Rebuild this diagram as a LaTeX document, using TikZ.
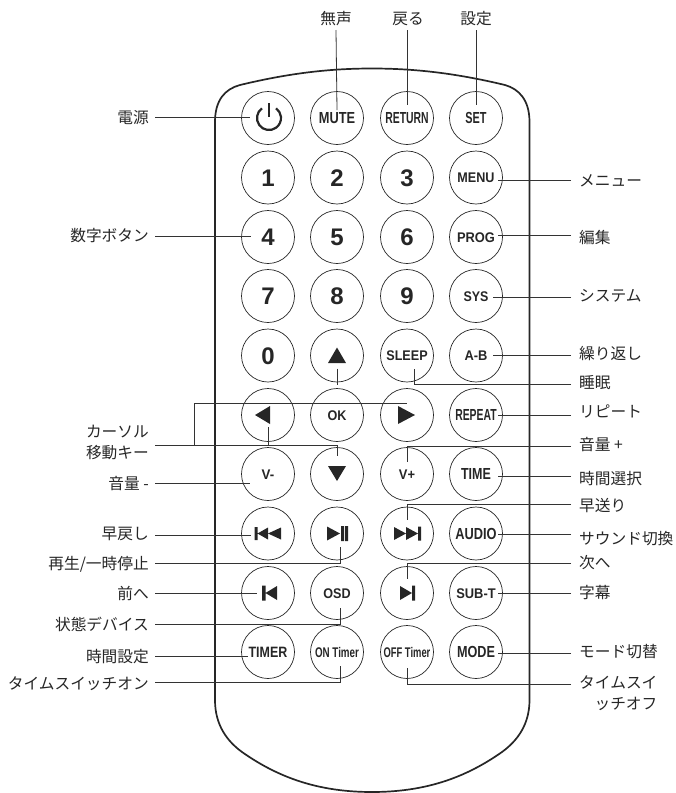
\documentclass[tikz,border=0pt]{standalone}
\usepackage{fontspec}
\setmainfont{Noto Sans CJK JP}
\newfontfamily\btnfont{Liberation Sans}[BoldFont={Liberation Sans Bold}]
\definecolor{inkc}{HTML}{262626}
\definecolor{linec}{HTML}{333333}
\tikzset{
  conn/.style={draw=linec,line width=0.8pt},
  bodyline/.style={draw=inkc,line width=1.7pt},
  btncircle/.style={circle,draw=inkc,line width=0.7pt,minimum size=53pt,inner sep=0pt,text=inkc},
  icon/.style={fill=inkc,draw=none},
  lab/.style={inner ysep=0pt,text height=6pt,text depth=6pt,text=inkc,font=\fontsize{15.7}{21}\selectfont},
  leftlab/.style={lab,anchor=east,inner xsep=6pt},
  rightlab/.style={lab,anchor=west,inner xsep=8pt},
  toplab/.style={lab,anchor=south,inner xsep=0pt}
}
% raise label text: #1 = offset from the line, upward
\newcommand{\lt}[2]{\raisebox{\dimexpr#1-6.5pt\relax}{#2}}
% name, x, y, size, xscale, text
\newcommand{\btn}[6]{\node[btncircle] (#1) at (#2,#3)
  {\fontsize{#4}{#4}\btnfont\bfseries\smash{\raisebox{-0.358em}{\scalebox{#5}[1]{#6}}}};}
\newcommand{\bare}[3]{\node[btncircle] (#1) at (#2,#3) {};}
\begin{document}
\begin{tikzpicture}[x=1pt,y=-1pt]
\useasboundingbox (0,0) rectangle (676,793);
% body
\draw[bodyline] (215,700) -- (215,122)
  .. controls (215,100) and (225,89) .. (240,85)
  .. controls (290,73) and (330,68.5) .. (372,68.5)
  .. controls (414,68.5) and (455,73) .. (505,85)
  .. controls (519,89) and (529.5,100) .. (529.5,122)
  -- (529.5,700)
  .. controls (529.5,725) and (517,741) .. (502,752)
  .. controls (465,778) and (425,792) .. (372,792)
  .. controls (319,792) and (279,778) .. (242,752)
  .. controls (227,741) and (215,725) .. (215,700) -- cycle;
% buttons
\bare{bpower}{268}{118}
\btn{bmute}{337}{118}{16}{.8}{MUTE}
\btn{breturn}{407}{118}{16}{.65}{RETURN}
\btn{bset}{476}{118}{16}{.68}{SET}
\btn{bone}{268}{177.5}{24}{1}{1}
\btn{btwo}{337}{177.5}{24}{1}{2}
\btn{bthree}{407}{177.5}{24}{1}{3}
\btn{bmenu}{476}{177.5}{14}{.9}{MENU}
\btn{bfour}{268}{237}{24}{1}{4}
\btn{bfive}{337}{237}{24}{1}{5}
\btn{bsix}{407}{237}{24}{1}{6}
\btn{bprog}{476}{237}{14}{.92}{PROG}
\btn{bseven}{268}{296}{24}{1}{7}
\btn{beight}{337}{296}{24}{1}{8}
\btn{bnine}{407}{296}{24}{1}{9}
\btn{bsys}{476}{296}{14}{.89}{SYS}
\btn{bzero}{268}{355.5}{24}{1}{0}
\bare{bup}{337}{355.5}
\btn{bsleep}{407}{355.5}{14}{.9}{SLEEP}
\btn{bab}{476}{355.5}{14}{.92}{A-B}
\bare{bleft}{268}{415}
\btn{bok}{337}{415}{14}{.9}{OK}
\bare{bright}{407}{415}
\btn{brepeat}{476}{415}{16}{.65}{REPEAT}
\btn{bvminus}{268}{474}{14}{.95}{V-}
\bare{bdown}{337}{474}
\btn{bvplus}{407}{474}{14}{.92}{V+}
\btn{btime}{476}{474}{16}{.78}{TIME}
\bare{brew}{268}{533.5}
\bare{bplay}{337}{533.5}
\bare{bff}{407}{533.5}
\btn{baudio}{476}{533.5}{16}{.8}{AUDIO}
\bare{bprev}{268}{593}
\btn{bosd}{337}{593}{14}{.9}{OSD}
\bare{bnext}{407}{593}
\btn{bsub}{476}{593}{14}{.92}{SUB-T}
\btn{btimer}{268}{652}{15}{.83}{TIMER}
\btn{bon}{337}{652}{14}{.7}{ON Timer}
\btn{boff}{407}{652}{14}{.67}{OFF Timer}
\btn{bmode}{476}{652}{16}{.79}{MODE}
% icons
\draw[inkc,line width=2.4pt,shift={(bpower.center)}] (1,-15) -- (1,-1);
\draw[inkc,line width=2.2pt,shift={(bpower.center)}] (-6.05,-9.7) arc[start angle=126,end angle=414,radius=12pt];
\fill[icon,shift={(bup.center)}] (0,-8) -- (9,7.5) -- (-9,7.5) -- cycle;
\fill[icon,shift={(bdown.center)}] (0,7) -- (9,-8) -- (-9,-8) -- cycle;
\fill[icon,shift={(bleft.center)}] (-13,0) -- (2,-9) -- (2,9) -- cycle;
\fill[icon,shift={(bright.center)}] (8,0) -- (-9,-9) -- (-9,9) -- cycle;
\fill[icon,shift={(brew.center)}] (-13.5,-6.5) rectangle (-10.5,6.5) (-10.5,0) -- (0,-6) -- (0,6) -- cycle (0,0) -- (13,-6) -- (13,6) -- cycle;
\fill[icon,shift={(bff.center)}] (14,-7) rectangle (11,7) (11,0) -- (-1,-6.5) -- (-1,6.5) -- cycle (-1,0) -- (-13,-6.5) -- (-13,6.5) -- cycle;
\fill[icon,shift={(bplay.center)}] (-10,-7) -- (3,0) -- (-10,7) -- cycle (4,-7.5) rectangle (7,7.5) (8,-7.5) rectangle (11,7.5);
\fill[icon,shift={(bprev.center)}] (-6,-7.5) rectangle (-2.5,7.5) (-2.5,0) -- (9,-7) -- (9,7) -- cycle;
\fill[icon,shift={(bnext.center)}] (8,-7.5) rectangle (5,7.5) (5,0) -- (-7,-7) -- (-7,7) -- cycle;
% top labels
\node[toplab] (lmute) at (336,30) {\lt{6pt}{無声}};
\node[toplab] (lreturn) at (408,30) {\lt{6pt}{戻る}};
\node[toplab] (lset) at (476,30) {\lt{6pt}{設定}};
% left labels (anchored at the line)
\node[leftlab] (lpower) at (155,117) {\lt{0pt}{電源}};
\node[leftlab] (lnum) at (155,236) {\lt{1pt}{数字ボタン}};
\node[leftlab] (lcursor) at (155,445) {\raisebox{\dimexpr 3.5pt-6pt\relax}{\begin{tabular}[c]{@{}r@{}}カーソル\\移動キー\end{tabular}}};
\node[leftlab] (lvminus) at (155,483) {\lt{0pt}{音量 -}};
\node[leftlab] (lrew) at (155,535) {\lt{2pt}{早戻し}};
\node[leftlab] (lplay) at (155,563) {\lt{0pt}{再生/一時停止}};
\node[leftlab] (lprev) at (155,593) {\lt{0pt}{前へ}};
\node[leftlab] (losd) at (155,624) {\lt{0pt}{状態デバイス}};
\node[leftlab] (ltimer) at (155,656) {\lt{0pt}{時間設定}};
\node[leftlab] (lon) at (155,682) {\lt{-1pt}{タイムスイッチオン}};
% right labels
\node[rightlab] (lmenu) at (571,180) {\lt{0pt}{メニュー}};
\node[rightlab] (lprog) at (571,235) {\lt{-2pt}{編集}};
\node[rightlab] (lsys) at (571,297) {\lt{2pt}{システム}};
\node[rightlab] (lab) at (571,355) {\lt{2pt}{繰り返し}};
\node[rightlab] (lsleep) at (571,384) {\lt{2pt}{睡眠}};
\node[rightlab] (lrepeat) at (571,415) {\lt{4pt}{リピート}};
\node[rightlab] (lvplus) at (571,446) {\lt{2pt}{音量 +}};
\node[rightlab] (ltime) at (571,476) {\lt{-2pt}{時間選択}};
\node[rightlab] (lff) at (571,504) {\lt{-1pt}{早送り}};
\node[rightlab] (laudio) at (571,534) {\lt{-4pt}{サウンド切換}};
\node[rightlab] (lnext) at (571,563) {\lt{1pt}{次へ}};
\node[rightlab] (lsub) at (571,593) {\lt{1pt}{字幕}};
\node[rightlab] (lmode) at (571,653) {\lt{2pt}{モード切替}};
\node[rightlab] (loff) at (571,684) {\raisebox{\dimexpr -8.5pt-6pt\relax}{\begin{tabular}[c]{@{}r@{}}タイムスイ\\ッチオフ\end{tabular}}};
% connectors
\draw[conn] (lmute.south) -- ([yshift=8pt]bmute.center);
\draw[conn] (lreturn.south -| breturn.center) -- ([yshift=13pt]breturn.center);
\draw[conn] (lset.south -| bset.center) -- ([yshift=13pt]bset.center);
\draw[conn] (lpower.east) -- ([xshift=-18pt,yshift=1pt]bpower.center);
\draw[conn] (lnum.east) -- ([xshift=-17pt,yshift=1pt]bfour.center);
\draw[conn] (lcursor.east) -| ([xshift=0pt,yshift=18pt]bdown.center);
\draw[conn] ([yshift=-12pt]bleft.center) -- (bleft.center |- lcursor.east);
\coordinate (cbracket) at (194,445);
\draw[conn] (cbracket) |- ([yshift=12pt]bright.center);
\draw[conn] ([yshift=-13pt]bup.center) -- (bup.center |- 0,385);
\draw[conn] (lvminus.east) -- ([xshift=-18pt,yshift=-9pt]bvminus.center);
\draw[conn] (lrew.east) -- ([xshift=-17pt,yshift=-1.5pt]brew.center);
\draw[conn] (lplay.east) -| ([xshift=3pt,yshift=-13.5pt]bplay.center);
\draw[conn] (lprev.east) -- ([xshift=-11pt]bprev.center);
\draw[conn] (losd.east) -| ([xshift=3pt,yshift=-15pt]bosd.center);
\draw[conn] (ltimer.east) -- ([xshift=-20pt,yshift=-4pt]btimer.center);
\draw[conn] (lon.east) -| ([xshift=3pt,yshift=-14pt]bon.center);
\draw[conn] (lmenu.west) -- ([xshift=22pt,yshift=-2.5pt]bmenu.center);
\draw[conn] (lprog.west) -- ([xshift=22pt,yshift=2pt]bprog.center);
\draw[conn] (lsys.west) -- ([xshift=17pt,yshift=-1pt]bsys.center);
\draw[conn] (lab.west) -- ([xshift=17pt,yshift=.5pt]bab.center);
\draw[conn] (lsleep.west) -| ([xshift=7pt,yshift=-13.5pt]bsleep.center);
\draw[conn] (lrepeat.west) -- ([xshift=22pt]brepeat.center);
\draw[conn] (lvplus.west) -| ([yshift=12pt]bvplus.center);
\draw[conn] (ltime.west) -- ([xshift=22pt,yshift=-2pt]btime.center);
\draw[conn] (lff.west) -| ([yshift=13.5pt]bff.center);
\draw[conn] (laudio.west) -- ([xshift=22pt,yshift=-.5pt]baudio.center);
\draw[conn] (lnext.west) -| ([yshift=14pt]bnext.center);
\draw[conn] (lsub.west) -- ([xshift=22pt]bsub.center);
\draw[conn] (lmode.west) -- ([xshift=22pt,yshift=-1pt]bmode.center);
\draw[conn] (loff.west) -| ([yshift=-16pt]boff.center);
\end{tikzpicture}
\end{document}
